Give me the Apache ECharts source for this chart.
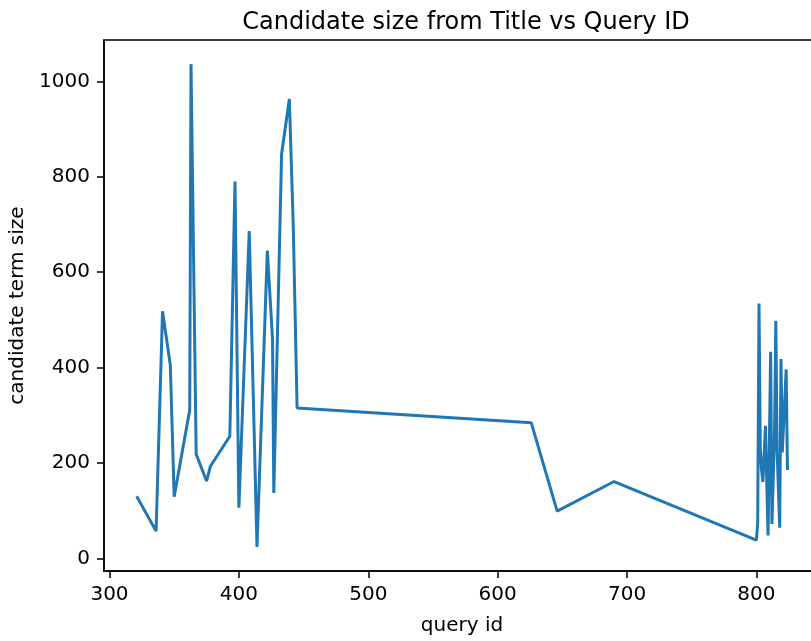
<!DOCTYPE html>
<html>
<head>
<meta charset="utf-8">
<script src="https://cdn.jsdelivr.net/npm/echarts@6/dist/echarts.min.js"></script>
<style>
html,body{margin:0;padding:0;background:#fff;}
#chart{width:811px;height:641px;}
</style>
</head>
<body>
<div id="chart"></div>
<script>
// Data
const queryIds = [321, 336, 341, 347, 350, 362, 363, 367, 375, 378, 393, 397, 400, 408, 414, 422, 426, 427, 433, 439, 442, 445, 626, 646, 690, 800, 801, 802, 803, 804, 805, 807, 808, 809, 811, 812, 814, 815, 816, 818, 819, 820, 823, 824];
const candidateSizes = [130, 57, 518, 405, 129, 311, 1036, 218, 162, 193, 256, 790, 106, 686, 24, 645, 460, 137, 847, 963, 700, 315, 284, 99, 161, 38, 75, 534, 230, 185, 160, 278, 160, 48, 433, 72, 262, 498, 225, 64, 418, 222, 396, 185];
const xTicks = [300, 400, 500, 600, 700, 800];
const yTicks = [0, 200, 400, 600, 800, 1000];

const FONT = 'DejaVu Sans';
const chart = echarts.init(document.getElementById('chart'), null, {renderer: 'canvas'});
const seriesData = queryIds.map((x, i) => [x, candidateSizes[i]]);

chart.setOption({
  animation: false,
  backgroundColor: '#fff',
  title: {
    text: 'Candidate size from Title vs Query ID',
    left: 461,
    textAlign: 'center',
    top: 6,
    textStyle: {fontFamily: FONT, fontSize: 24, fontWeight: 'normal', color: '#000'}
  },
  grid: {
    left: 104, top: 40, right: -9, bottom: 70,
    outerBoundsMode: 'none',
    containLabel: false,
    show: true, borderColor: '#000', borderWidth: 1.5, backgroundColor: 'transparent'
  },
  xAxis: {
    type: 'value',
    min: 295.75, max: 849.15,
    name: 'query id',
    nameLocation: 'middle',
    nameGap: 45,
    nameTextStyle: {fontFamily: FONT, fontSize: 20, color: '#000'},
    axisLine: {show: true, onZero: false, lineStyle: {color: '#000', width: 1.5}},
    axisTick: {show: true, inside: false, length: 7, customValues: xTicks, lineStyle: {color: '#000', width: 1.5}},
    axisLabel: {show: true, margin: 14, customValues: xTicks, formatter: v => String(v), fontFamily: FONT, fontSize: 20, color: '#000'},
    splitLine: {show: false}
  },
  yAxis: {
    type: 'value',
    min: -26.6, max: 1086.6,
    name: 'candidate term size',
    nameLocation: 'middle',
    nameGap: 61,
    nameTextStyle: {fontFamily: FONT, fontSize: 20, color: '#000'},
    axisLine: {show: true, onZero: false, lineStyle: {color: '#000', width: 1.5}},
    axisTick: {show: true, inside: false, length: 7, customValues: yTicks, lineStyle: {color: '#000', width: 1.5}},
    axisLabel: {show: true, margin: 14, customValues: yTicks, formatter: v => String(v), fontFamily: FONT, fontSize: 20, color: '#000'},
    splitLine: {show: false}
  },
  series: [{
    type: 'line',
    data: seriesData,
    symbol: 'none',
    lineStyle: {color: '#1f77b4', width: 3},
    itemStyle: {color: '#1f77b4'},
    clip: true
  }]
});
</script>
</body>
</html>
